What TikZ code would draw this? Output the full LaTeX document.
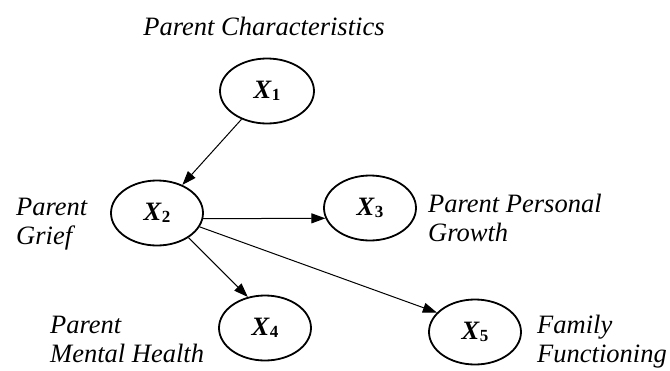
\documentclass[tikz,border=0pt]{standalone}
\usepackage{fontspec}
\setmainfont{Liberation Serif}
\usetikzlibrary{shapes.geometric, arrows.meta}
\newcommand{\xvar}[1]{\textbf{\textit{X}}\raisebox{-2pt}{\fontsize{17}{17}\selectfont\textbf{#1}}}

\begin{document}
\begin{tikzpicture}[x=1pt,y=-1pt,
        var/.style={ellipse,draw,line width=1.8pt,minimum width=92pt,minimum height=65pt,inner sep=0pt,font=\fontsize{26.5}{29}\selectfont},
        lbl/.style={anchor=base west,align=left,inner sep=0pt,font=\fontsize{26.5}{29}\selectfont\itshape},
        arr/.style={-{Triangle[length=14pt,width=10pt]},line width=1pt}]
            \useasboundingbox (0,0) rectangle (670,370);
            % variables
            \node[var,minimum width=94pt] (X1) at (267,91) {\xvar{1}};
            \node[var] (X2) at (157,213) {\xvar{2}};
            \node[var] (X3) at (370,208) {\xvar{3}};
            \node[var] (X4) at (265,328) {\xvar{4}};
            \node[var] (X5) at (475,332) {\xvar{5}};
            % labels (base = last line)
            \node[lbl,anchor=base] (char) at (264,35) {Parent Characteristics};
            \node[lbl] (grief) at (16,244) {Parent\\Grief};
            \node[lbl] (growth) at (428,241) {Parent Personal\\Growth};
            \node[lbl] (health) at (50,362) {Parent\\Mental Health};
            \node[lbl] (family) at (537,362) {Family\\Functioning};
            % paths
            \draw[arr] (X1) -- (X2);
            \draw[arr] (X2.-7) -- (X3.193);
            \draw[arr] (X2.-38) -- (X4.119);
            \draw[arr] (X2.-18) -- (X5.153);
        \end{tikzpicture}
\end{document}
